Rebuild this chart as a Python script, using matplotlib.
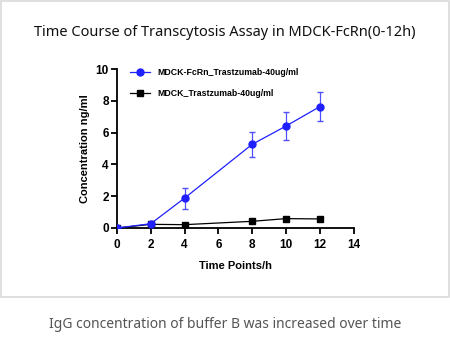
import matplotlib
matplotlib.use('Agg')
import matplotlib.pyplot as plt
from matplotlib.patches import Rectangle
from matplotlib.lines import Line2D

# data
time_h = [0, 2, 4, 8, 10, 12]
fcrn_conc = [0.0, 0.27, 1.88, 5.26, 6.41, 7.63]
fcrn_err = [0.0, 0.05, 0.66, 0.79, 0.87, 0.91]
mdck_conc = [0.0, 0.23, 0.21, 0.42, 0.59, 0.57]
mdck_err = [0.0, 0.03, 0.03, 0.05, 0.05, 0.05]

fcrn_label = 'MDCK-FcRn_Trastzumab-40ug/ml'
mdck_label = 'MDCK_Trastzumab-40ug/ml'
title = 'Time Course of Transcytosis Assay in MDCK-FcRn(0-12h)'
caption = 'IgG concentration of buffer B was increased over time'

fig = plt.figure(figsize=(4.5, 3.42), dpi=100)

# light grey frame around the chart area
fig.patches.append(Rectangle((0.5 / 450, 1 - 297 / 342), 448.5 / 450, 296 / 342,
                             transform=fig.transFigure, fill=False,
                             edgecolor='#d9d9d9', linewidth=1.2))

ax = fig.add_axes([117 / 450, 1 - 228 / 342, (353.5 - 117) / 450, (228 - 69) / 342])

ax.errorbar(time_h, fcrn_conc, yerr=fcrn_err, color='#1f1fff', marker='o',
            markersize=5, linewidth=0.9, capsize=2.5, elinewidth=0.9,
            ecolor='#5050ff', zorder=3)
ax.errorbar(time_h, mdck_conc, yerr=mdck_err, color='black', marker='s',
            markersize=5, linewidth=0.9, capsize=2.5, elinewidth=0.9,
            zorder=2)

ax.set_xlim(0, 14)
ax.set_ylim(0, 10)
ax.set_xticks(range(0, 15, 2))
ax.set_yticks(range(0, 11, 2))
for s in ['top', 'right']:
    ax.spines[s].set_visible(False)
for s in ['left', 'bottom']:
    ax.spines[s].set_linewidth(1.3)
ax.tick_params(direction='out', length=4, width=1.3, labelsize=8.5)
ax.tick_params(axis='x', pad=4)
ax.tick_params(axis='y', pad=2)
for lab in ax.get_xticklabels() + ax.get_yticklabels():
    lab.set_fontweight('bold')
    lab.set_family('Liberation Sans')
ax.set_xlabel('Time Points/h', fontsize=8, fontweight='bold', family='Liberation Sans', labelpad=7)
ax.set_ylabel('Concentration ng/ml', fontsize=8, fontweight='bold', family='Liberation Sans', labelpad=4)

# legend handles without the error bar glyph
handles = [Line2D([], [], color='#1f1fff', marker='o', markersize=5, linewidth=0.9),
           Line2D([], [], color='black', marker='s', markersize=5, linewidth=0.9)]
ax.legend(handles, [fcrn_label, mdck_label], loc='upper left',
          bbox_to_anchor=(0.04, 1.03), frameon=False,
          prop={'family': 'Liberation Sans', 'weight': 'bold', 'size': 6.3},
          labelspacing=1.45, handlelength=2.3, handletextpad=0.8,
          borderaxespad=0.0)

fig.text(0.5, 1 - 32 / 342, title, ha='center', va='center', fontsize=10.5,
         family='Noto Sans', color='#111111')
fig.text(0.5, 1 - 324 / 342, caption, ha='center', va='center', fontsize=10,
         family='Noto Sans', color='#555555')

fig.savefig('out.png', dpi=100)
